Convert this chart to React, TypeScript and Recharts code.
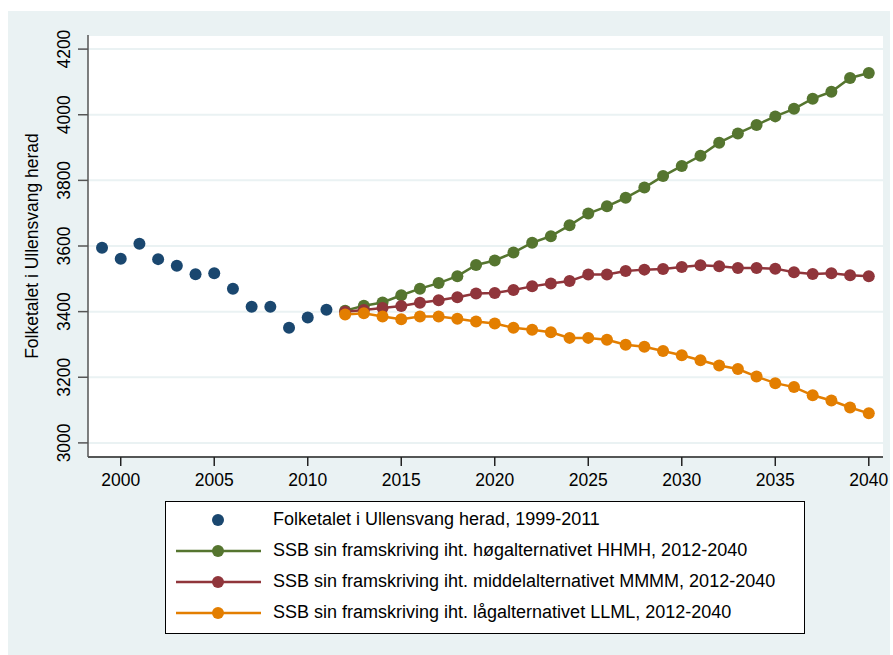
import { ComposedChart, Line, XAxis, YAxis, CartesianGrid } from "recharts";

const FONT = '"Liberation Sans", Arial, sans-serif';

const observedYears = [1999, 2000, 2001, 2002, 2003, 2004, 2005, 2006, 2007, 2008, 2009, 2010, 2011];
const observed = [3595, 3561, 3607, 3560, 3540, 3514, 3517, 3470, 3415, 3415, 3351, 3382, 3406];

const projYears = [
  2012, 2013, 2014, 2015, 2016, 2017, 2018, 2019, 2020, 2021, 2022, 2023, 2024, 2025, 2026,
  2027, 2028, 2029, 2030, 2031, 2032, 2033, 2034, 2035, 2036, 2037, 2038, 2039, 2040,
];
const high = [
  3403, 3418, 3428, 3450, 3470, 3487, 3508, 3542, 3556, 3580, 3610, 3630, 3663, 3699, 3721,
  3747, 3778, 3813, 3844, 3875, 3915, 3943, 3969, 3995, 4018, 4049, 4070, 4112, 4127,
];
const middle = [
  3400, 3405, 3411, 3417, 3427, 3435, 3444, 3455, 3457, 3466, 3477, 3486, 3493, 3513, 3513,
  3524, 3528, 3530, 3536, 3541, 3538, 3533, 3533, 3531, 3520, 3515, 3517, 3511, 3508,
];
const low = [
  3391, 3395, 3385, 3377, 3385, 3385, 3378, 3370, 3364, 3351, 3345, 3337, 3320, 3320, 3314,
  3299, 3293, 3280, 3267, 3252, 3236, 3225, 3202, 3182, 3170, 3145, 3129, 3108, 3090,
];

const xTicks = [2000, 2005, 2010, 2015, 2020, 2025, 2030, 2035, 2040];
const yTicks = [3000, 3200, 3400, 3600, 3800, 4000, 4200];

const seriesNames = [
  "Folketalet i Ullensvang herad, 1999-2011",
  "SSB sin framskriving iht. høgalternativet HHMH, 2012-2040",
  "SSB sin framskriving iht. middelalternativet MMMM, 2012-2040",
  "SSB sin framskriving iht. lågalternativet LLML, 2012-2040",
];
const colors = ["#1a476f", "#55752f", "#90353b", "#e37e00"];

const yTitle = "Folketalet i Ullensvang herad";

const data = [...observedYears, ...projYears].map((year) => {
  const i = observedYears.indexOf(year);
  const j = projYears.indexOf(year);
  return {
    year,
    obs: i >= 0 ? observed[i] : null,
    high: j >= 0 ? high[j] : null,
    middle: j >= 0 ? middle[j] : null,
    low: j >= 0 ? low[j] : null,
  };
});

function YTick({ y, payload }: any) {
  return (
    <text
      transform={`translate(62, ${y}) rotate(-90)`}
      textAnchor="middle"
      fontFamily={FONT}
      fontSize={17.5}
      fill="#000"
    >
      {payload.value}
    </text>
  );
}

function LegendBox() {
  return (
    <div
      style={{
        position: "absolute",
        left: 157,
        top: 490,
        width: 638,
        height: 131,
        border: "1px solid #000",
        background: "#fff",
        fontFamily: FONT,
        fontSize: 18,
        color: "#000",
      }}
    >
      {seriesNames.map((name, i) => (
        <div
          key={name}
          style={{ position: "absolute", left: 0, top: 18 + i * 31 - 12, height: 24, width: "100%" }}
        >
          <svg width={100} height={24} style={{ position: "absolute", left: 0, top: 0 }}>
            {i > 0 && <line x1={10} x2={95} y1={12} y2={12} stroke={colors[i]} strokeWidth={2.5} />}
            <circle cx={52} cy={12} r={6} fill={colors[i]} />
          </svg>
          <span style={{ position: "absolute", left: 107, top: 1, whiteSpace: "nowrap", lineHeight: "20px" }}>
            {name}
          </span>
        </div>
      ))}
    </div>
  );
}

export default function App() {
  return (
    <div
      style={{
        position: "absolute",
        left: 8,
        top: 11,
        width: 882,
        height: 644,
        background: "#eaf2f3",
      }}
    >
      <ComposedChart
        width={882}
        height={644}
        data={data}
        margin={{ top: 24, right: 7, bottom: 158, left: 0 }}
      >
        <CartesianGrid vertical={false} stroke="#eaf2f3" strokeWidth={2} fill="#ffffff" />
        <XAxis
          dataKey="year"
          type="number"
          domain={[1998.25, 2040.76]}
          ticks={xTicks}
          allowDataOverflow
          height={40}
          tickSize={9}
          tickMargin={8}
          stroke="#222"
          strokeWidth={1.5}
          tick={{ fill: "#000", fontFamily: FONT, fontSize: 17.5 }}
        />
        <YAxis
          type="number"
          domain={[2957, 4243]}
          ticks={yTicks}
          allowDataOverflow
          width={80}
          tickSize={10}
          stroke="#555"
          strokeWidth={1.5}
          tick={<YTick />}
          label={{
            value: yTitle,
            angle: -90,
            position: "left",
            offset: -24,
            style: { textAnchor: "middle", fontFamily: FONT, fontSize: 17.5, fill: "#000" },
          }}
        />
        <Line
          dataKey="obs"
          stroke="none"
          strokeWidth={0}
          dot={{ r: 6, fill: colors[0], stroke: colors[0], strokeWidth: 0 }}
          isAnimationActive={false}
        />
        <Line
          dataKey="high"
          stroke={colors[1]}
          strokeWidth={2.5}
          dot={{ r: 6, fill: colors[1], stroke: colors[1], strokeWidth: 0 }}
          isAnimationActive={false}
        />
        <Line
          dataKey="middle"
          stroke={colors[2]}
          strokeWidth={2.5}
          dot={{ r: 6, fill: colors[2], stroke: colors[2], strokeWidth: 0 }}
          isAnimationActive={false}
        />
        <Line
          dataKey="low"
          stroke={colors[3]}
          strokeWidth={2.5}
          dot={{ r: 6, fill: colors[3], stroke: colors[3], strokeWidth: 0 }}
          isAnimationActive={false}
        />
      </ComposedChart>
      <LegendBox />
    </div>
  );
}
